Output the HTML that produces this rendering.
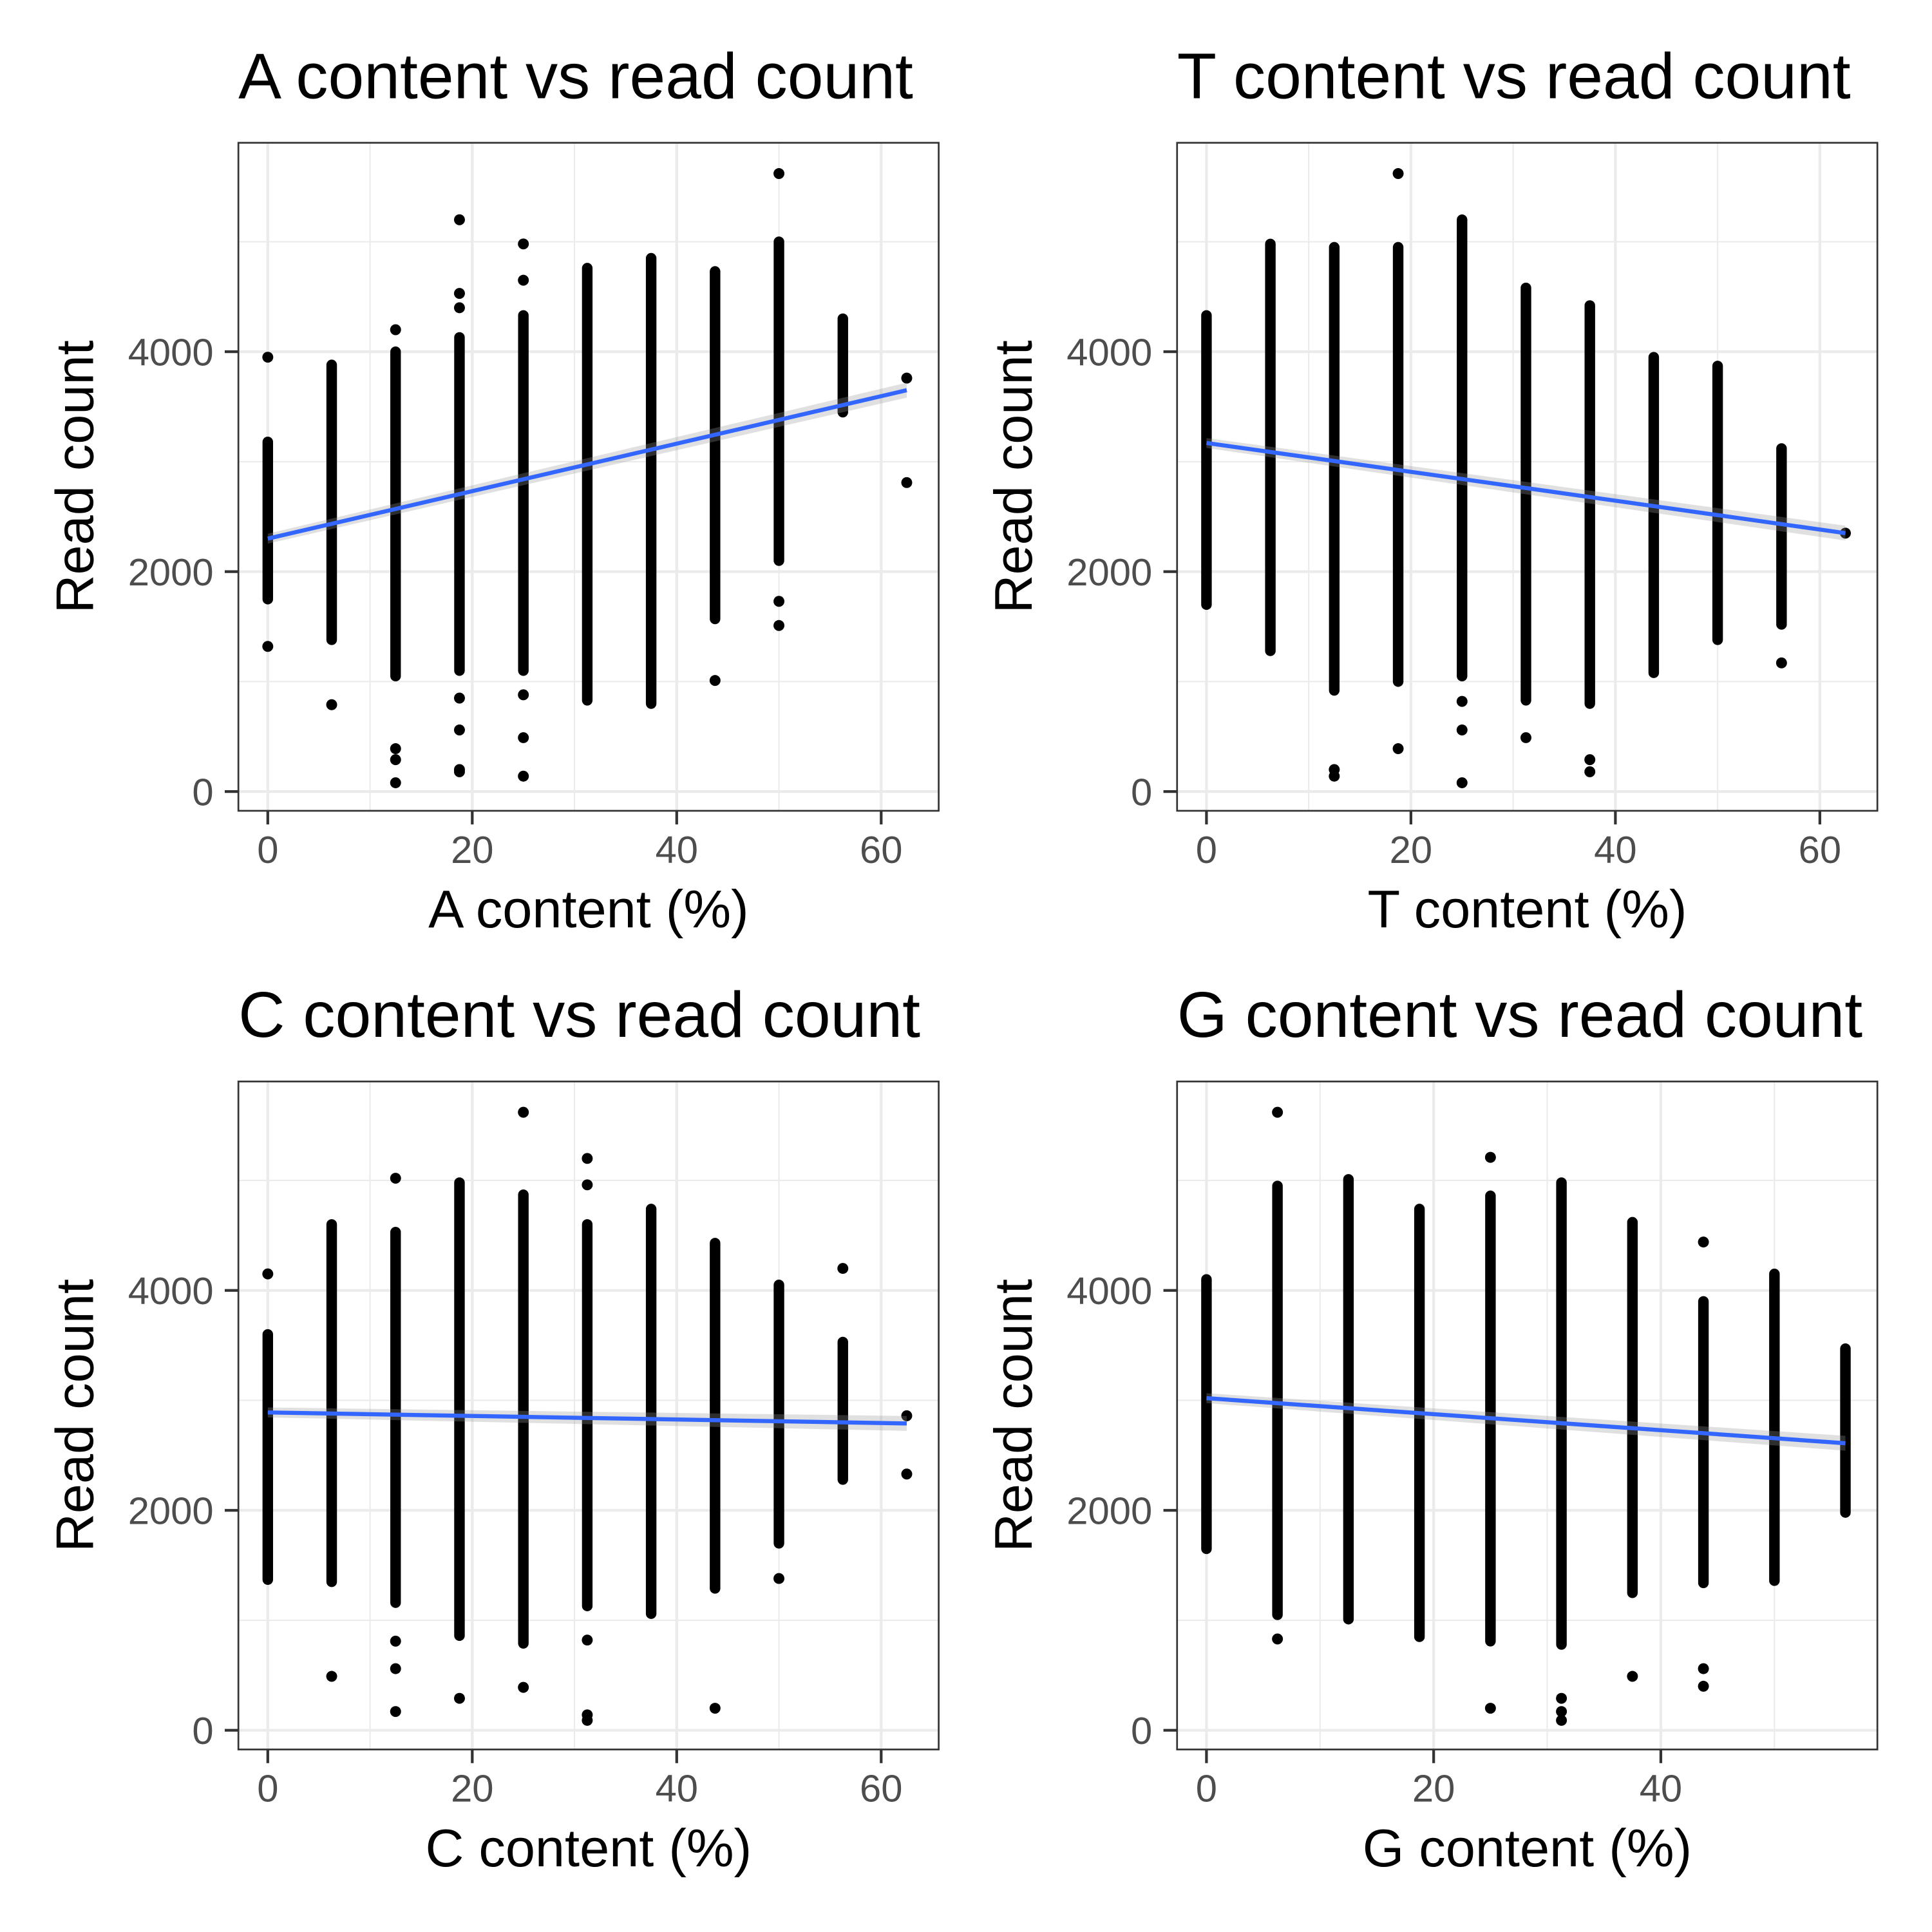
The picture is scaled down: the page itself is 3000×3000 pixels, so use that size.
<!DOCTYPE html>
<html><head><meta charset="utf-8"><style>
html,body{margin:0;padding:0;background:#fff}
svg{display:block}
text{font-family:"Liberation Sans",Arial,sans-serif}
</style></head><body>
<svg id="chart" width="3000" height="3000" viewBox="0 0 1556 1556" xmlns="http://www.w3.org/2000/svg"></svg>
<script>
// shared categories: nucleotide content levels (%)
const levels = [0, 6.25, 12.5, 18.75, 25, 31.25, 37.5, 43.75, 50, 56.25, 62.5];
// per-panel dense ranges (low, high) and outliers for each level
const aLow  = [1750,1380,1050,1100,1100, 830, 800,1570,2100,3450,null];
const aHigh = [3180,3880,4000,4130,4330,4760,4850,4730,5000,4300,null];
const aOut  = [[3950,1320],[790],[4200,390,290,80],[5200,4530,4400,850,560,200,180],[4980,4650,880,490,140],[],[],[1010],[5620,1730,1510],[],[3760,2810]];
const aFit  = [2300, 3650];

const tLow  = [1700,1280, 920,1000,1050, 830, 800,1080,1380,1520,null];
const tHigh = [4330,4980,4950,4950,5200,4580,4420,3950,3870,3120,null];
const tOut  = [[],[],[200,140],[5620,390],[820,560,80],[490],[290,180],[],[],[1170],[2350]];
const tFit  = [3170, 2350];

const cLow  = [1370,1350,1160, 860, 790,1130,1060,1290,1700,2280,null];
const cHigh = [3600,4600,4530,4980,4870,4600,4740,4430,4050,3530,null];
const cOut  = [[4150],[490],[5020,810,560,170],[290],[5620,390],[5200,4960,820,140,90],[],[200],[1380],[4200],[2860,2330]];
const cFit  = [2890, 2790];

const gLow  = [1650,1050,1010, 850, 810, 780,1250,1340,1360,1980];
const gHigh = [4100,4950,5010,4740,4860,4980,4620,3900,4150,3470];
const gOut  = [[],[5620,830],[],[],[5210,200],[290,170,90],[490],[4440,560,400],[],[]];
const gFit  = [3020, 2610];

const yTicks = [0, 2000, 4000];
const yMinor = [1000, 3000, 5000];

const NS = "http://www.w3.org/2000/svg";
const svg = document.getElementById('chart');
function mk(tag, attrs, parent){const e=document.createElementNS(NS,tag);for(const k in attrs)e.setAttribute(k,attrs[k]);(parent||svg).appendChild(e);return e;}

function panel(key, letter, ox, oy, lo, hi, out, fit, xmax, xTicks, xMinor){
  const g = mk('g', {});
  
  
  const L=ox, R=ox+564, T=oy, B=oy+538;
  const xd0 = -xmax*0.046, xd1 = xmax*1.05;
  const yd0 = -175, yd1 = 5900;
  const X = v => L + (v - xd0) / (xd1 - xd0) * (R - L);
  const Y = v => B - (v - yd0) / (yd1 - yd0) * (B - T);
  xMinor.forEach(v=>mk('line',{x1:X(v),x2:X(v),y1:T,y2:B,stroke:'#ebebeb','stroke-width':1.1},g));
  yMinor.forEach(v=>mk('line',{x1:L,x2:R,y1:Y(v),y2:Y(v),stroke:'#ebebeb','stroke-width':1.1},g));
  xTicks.forEach(v=>mk('line',{x1:X(v),x2:X(v),y1:T,y2:B,stroke:'#ebebeb','stroke-width':2.2},g));
  yTicks.forEach(v=>mk('line',{x1:L,x2:R,y1:Y(v),y2:Y(v),stroke:'#ebebeb','stroke-width':2.2},g));
  const pts = mk('g', {}, g);
  
  
  const n = Math.min(levels.length, lo.length);
  for (let i=0;i<n;i++){
    const xv = levels[i];
    if (lo[i]!=null){
      const ln = mk('line',{x1:X(xv),x2:X(xv),y1:Y(lo[i]),y2:Y(hi[i]),stroke:'#000','stroke-width':8.5,'stroke-linecap':'round'},pts);
      
      
    }
    (out[i]||[]).forEach(v=>{
      const c = mk('circle',{cx:X(xv),cy:Y(v),r:4.4,fill:'#000'},pts);
      
      
    });
  }
  const xe = xmax;
  mk('polygon',{points:`${X(0)},${Y(fit[0])-4} ${X(xe)},${Y(fit[1])-6} ${X(xe)},${Y(fit[1])+6} ${X(0)},${Y(fit[0])+4}`,fill:'#999','fill-opacity':0.3},g);
  const fl = mk('line',{x1:X(0),y1:Y(fit[0]),x2:X(xe),y2:Y(fit[1]),stroke:'#3366ff','stroke-width':3.3},g);
  
  
  mk('rect',{x:L,y:T,width:R-L,height:B-T,fill:'none',stroke:'#333','stroke-width':1.4},g);
  xTicks.forEach(v=>{
    mk('line',{x1:X(v),x2:X(v),y1:B,y2:B+11,stroke:'#333','stroke-width':2.2},g);
    const t=mk('text',{x:X(v),y:B+42,'text-anchor':'middle','font-size':31,fill:'#4d4d4d'},g);t.textContent=v;
    
    
  });
  yTicks.forEach(v=>{
    mk('line',{x1:L-11,x2:L,y1:Y(v),y2:Y(v),stroke:'#333','stroke-width':2.2},g);
    const t=mk('text',{x:L-20,y:Y(v)+11,'text-anchor':'end','font-size':31,fill:'#4d4d4d'},g);t.textContent=v;
    
    
  });
  const tt=mk('text',{x:L,y:T-36,'font-size':52,fill:'#000'},g);tt.textContent=letter+' content vs read count';
  
  
  const xt=mk('text',{x:(L+R)/2,y:B+94,'text-anchor':'middle','font-size':43,fill:'#000'},g);xt.textContent=letter+' content (%)';
  
  
  const yt=mk('text',{x:0,y:0,'text-anchor':'middle','font-size':43,fill:'#000',transform:`translate(${L-117},${(T+B)/2}) rotate(-90)`},g);yt.textContent='Read count';
  
  
}
panel('a','A',192,115,aLow,aHigh,aOut,aFit,62.5,[0,20,40,60],[10,30,50]);
panel('t','T',948,115,tLow,tHigh,tOut,tFit,62.5,[0,20,40,60],[10,30,50]);
panel('c','C',192,871,cLow,cHigh,cOut,cFit,62.5,[0,20,40,60],[10,30,50]);
panel('g','G',948,871,gLow,gHigh,gOut,gFit,56.25,[0,20,40],[10,30,50]);
</script>
</body></html>
